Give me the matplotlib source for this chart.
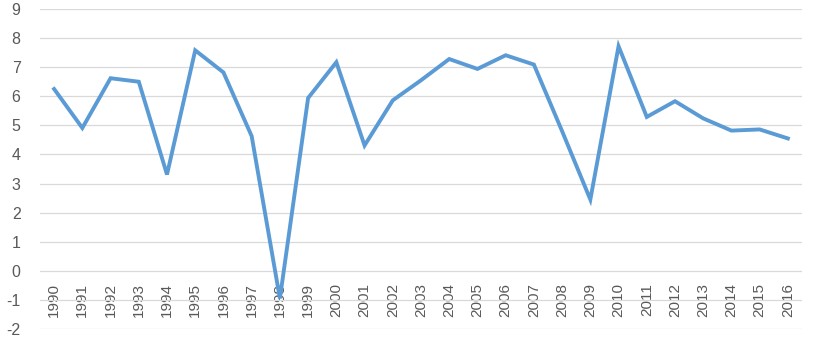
import matplotlib
matplotlib.use('Agg')
import matplotlib.pyplot as plt

years = [str(y) for y in range(1990, 2017)]
values = [6.25, 4.91, 6.62, 6.50, 3.31, 7.58, 6.82, 4.63, -0.95,
          5.94, 7.17, 4.31, 5.86, 6.55, 7.28, 6.94, 7.41, 7.09,
          4.80, 2.45, 7.72, 5.29, 5.83, 5.24, 4.82, 4.86, 4.55]
y_ticks = list(range(-2, 10))

plt.rcParams['font.family'] = ['Liberation Sans', 'DejaVu Sans']

fig = plt.figure(figsize=(8.15, 3.4), dpi=100)
ax = fig.add_axes([40 / 815, 11 / 340, 762 / 815, 320 / 340])

# spine position first, it resets the tick objects
for s in ax.spines.values():
    s.set_visible(False)
ax.spines['bottom'].set_position(('data', 0))

x = list(range(len(years)))
ax.plot(x, values, color='#5B9BD5', linewidth=2.8, solid_joinstyle='miter', zorder=3)

ax.set_xlim(-0.5, len(years) - 0.5)
ax.set_ylim(-2, 9)
ax.set_yticks(y_ticks)
ax.set_yticklabels([str(t) for t in y_ticks])
ax.set_xticks(x)
ax.set_xticklabels(years)

ax.grid(axis='y', color='#D9D9D9', linewidth=0.9)
ax.set_axisbelow(True)

ax.tick_params(axis='y', length=0, pad=14, labelsize=11.5, labelcolor='#595959')
ax.tick_params(axis='x', length=0, pad=9, labelsize=11, labelcolor='#595959',
               labelrotation=90)
for lbl in ax.get_xticklabels():
    lbl.set_verticalalignment('top')
    lbl.set_zorder(4)

fig.savefig('out.png', dpi=100)
plt.close(fig)
